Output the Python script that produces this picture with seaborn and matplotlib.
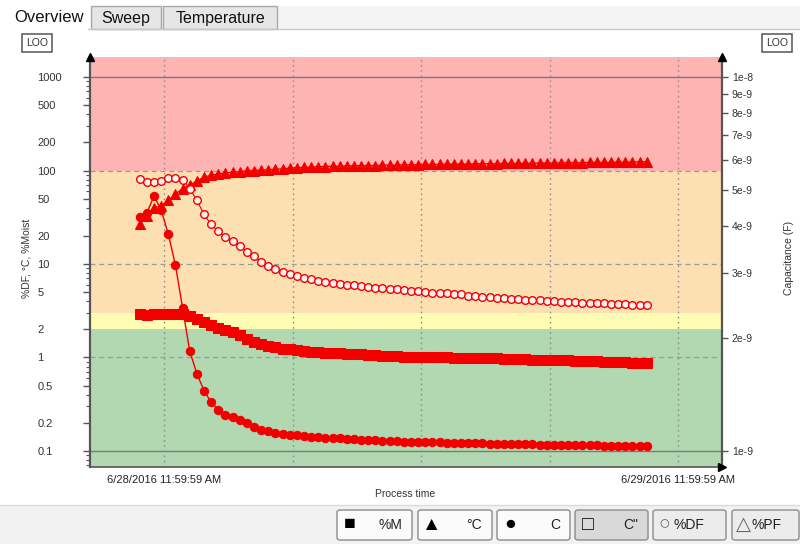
import numpy as np
import pandas as pd
import matplotlib
matplotlib.use("Agg")
import matplotlib.pyplot as plt
import matplotlib.ticker as mticker
import matplotlib.dates as mdates
from matplotlib.patches import Rectangle, FancyBboxPatch
from matplotlib.lines import Line2D
import seaborn as sns

# ---- sampled process data (20-minute readings) ----
sample_start = "2016-06-28 10:52"
sample_count = 72
sample_step = "20min"

moisture_pct = [
    2.9, 2.88, 2.9, 2.9, 2.9, 2.9, 2.92, 2.8,
    2.56, 2.38, 2.2, 2.07, 1.97, 1.87, 1.72, 1.58,
    1.45, 1.38, 1.32, 1.28, 1.24, 1.22, 1.19, 1.16,
    1.15, 1.14, 1.13, 1.12, 1.11, 1.10, 1.09, 1.08,
    1.07, 1.06, 1.05, 1.04, 1.03, 1.02, 1.02, 1.01,
    1.01, 1.0, 1.0, 1.0, 0.99, 0.99, 0.99, 0.98,
    0.98, 0.98, 0.98, 0.97, 0.97, 0.96, 0.96, 0.95,
    0.95, 0.94, 0.94, 0.93, 0.93, 0.92, 0.92, 0.91,
    0.91, 0.9, 0.9, 0.89, 0.89, 0.88, 0.88, 0.87,
]

temperature_c = [
    27, 33, 40, 42, 48, 56, 64, 70,
    77, 85, 89, 92, 94, 96, 97, 99,
    100, 101, 102, 103, 104, 106, 107, 108,
    109, 110, 110, 111, 111, 112, 112, 113,
    113, 113, 114, 114, 114, 115, 115, 115,
    116, 116, 116, 117, 117, 117, 117, 118,
    118, 118, 118, 119, 119, 119, 119, 120,
    120, 120, 120, 121, 121, 121, 121, 122,
    122, 122, 122, 123, 123, 123, 124, 124,
]

capacitance_nf = [
    4.22, 4.33, 4.81, 4.41, 3.80, 3.14, 2.41, 1.85,
    1.61, 1.45, 1.35, 1.29, 1.25, 1.23, 1.21, 1.19,
    1.16, 1.14, 1.13, 1.12, 1.11, 1.105, 1.10, 1.095,
    1.09, 1.088, 1.085, 1.082, 1.08, 1.077, 1.074, 1.072,
    1.07, 1.068, 1.066, 1.064, 1.062, 1.06, 1.059, 1.058,
    1.056, 1.055, 1.054, 1.053, 1.052, 1.051, 1.05, 1.049,
    1.048, 1.047, 1.046, 1.045, 1.044, 1.043, 1.042, 1.041,
    1.04, 1.039, 1.039, 1.038, 1.037, 1.037, 1.036, 1.035,
    1.035, 1.034, 1.033, 1.033, 1.032, 1.032, 1.031, 1.031,
]

dissipation_pct = [
    82, 76, 76, 78, 83, 84, 80, 64,
    48, 34, 26.5, 22.3, 19.4, 17.8, 15.6, 13.6,
    12.1, 10.6, 9.5, 8.8, 8.2, 7.9, 7.4, 7.0,
    6.85, 6.6, 6.4, 6.3, 6.15, 6.0, 5.9, 5.75,
    5.65, 5.55, 5.5, 5.45, 5.35, 5.25, 5.15, 5.1,
    5.0, 4.95, 4.9, 4.85, 4.8, 4.72, 4.6, 4.5,
    4.45, 4.4, 4.35, 4.3, 4.25, 4.2, 4.15, 4.1,
    4.07, 4.03, 4.0, 3.96, 3.93, 3.9, 3.87, 3.84,
    3.81, 3.78, 3.75, 3.72, 3.69, 3.66, 3.63, 3.6,
]

# ---- alarm zones on the left scale ----
zone_bounds = [0.01, 2, 3, 100, 1e5]
zone_colors = ["#b1d8b1", "#fefdb3", "#fde0b2", "#ffb4b4"]

# ---- axis ticks ----
left_ticks = [0.1, 0.2, 0.5, 1, 2, 5, 10, 20, 50, 100, 200, 500, 1000]
left_tick_labels = ["0.1", "0.2", "0.5", "1", "2", "5", "10", "20", "50",
                    "100", "200", "500", "1000"]
right_ticks = [9e-10, 1e-9, 2e-9, 3e-9, 4e-9, 5e-9, 6e-9, 7e-9, 8e-9, 9e-9, 1e-8]
right_tick_labels = ["9e-10", "1e-9", "2e-9", "3e-9", "4e-9", "5e-9", "6e-9",
                     "7e-9", "8e-9", "9e-9", "1e-8"]
solid_levels = [0.1, 1000]
dashed_levels = [1, 10, 100]
time_ticks = ["2016-06-28 11:59:59", "2016-06-28 17:59:59", "2016-06-28 23:59:59",
              "2016-06-29 05:59:59", "2016-06-29 11:59:59"]
time_tick_labels = ["6/28/2016 11:59:59 AM", "", "", "", "6/29/2016 11:59:59 AM"]
time_range = ["2016-06-28 08:32:40", "2016-06-29 14:03:00"]

button_symbols = ["\u25a0", "\u25b2", "\u25cf", "\u25a1", "\u25cb", "\u25b3"]
button_labels = ["%M", "\u00b0C", "C", "C\"", "%DF", "%PF"]

sns.set_theme(style="white")
plt.rcParams["font.family"] = ["Liberation Sans", "DejaVu Sans"]

times = pd.date_range(sample_start, periods=sample_count, freq=sample_step)
df = pd.DataFrame({
    "time": times,
    "moisture": moisture_pct,
    "temperature": temperature_c,
    "capacitance": np.array(capacitance_nf) * 1e-9,
    "dissipation": dissipation_pct,
})

W, H = 800, 544
fig = plt.figure(figsize=(W / 100, H / 100), dpi=100)
fig.patch.set_facecolor("white")


def fx(x):
    return x / W


def fy(y):
    return 1 - y / H


# plot area in pixel edges: left 90, right 722, top 57, bottom 467
ax = fig.add_axes([fx(90), fy(467), (722 - 90) / W, (467 - 57) / H])
ax.set_facecolor("white")
ax.set_yscale("log")
ax.set_ylim(0.0674, 1637)
xlo = mdates.date2num(pd.Timestamp(time_range[0]))
xhi = mdates.date2num(pd.Timestamp(time_range[1]))
ax.set_xlim(xlo, xhi)

for lo, hi, c in zip(zone_bounds[:-1], zone_bounds[1:], zone_colors):
    ax.axhspan(lo, hi, color=c, lw=0, zorder=0)

for lv in solid_levels:
    ax.axhline(lv, color="#7a7a7a", lw=1.0, zorder=1)
for lv in dashed_levels:
    ax.axhline(lv, color="#9a9a9a", lw=0.9, ls=(0, (4, 3)), zorder=1)
tick_nums = [mdates.date2num(pd.Timestamp(t)) for t in time_ticks]
for tn in tick_nums:
    ax.axvline(tn, color="#8f8f8f", lw=1.0, ls=(0, (1.2, 2.5)), zorder=1)

red = "#f20000"
sns.lineplot(data=df, x="time", y="temperature", ax=ax, estimator=None,
             color=red, lw=1.0, marker="^", markersize=6.5,
             markeredgecolor=red, markerfacecolor=red, legend=False, zorder=4)
sns.lineplot(data=df, x="time", y="dissipation", ax=ax, estimator=None,
             color=red, lw=0.8, marker="o", markersize=5.5,
             markeredgecolor=red, markerfacecolor="#fff1ee",
             markeredgewidth=1.0, legend=False, zorder=4)
sns.lineplot(data=df, x="time", y="moisture", ax=ax, estimator=None,
             color=red, lw=1.5, marker="s", markersize=6.5,
             markeredgecolor=red, markerfacecolor=red, legend=False, zorder=4)

ax.set_xlim(xlo, xhi)
ax.set_ylim(0.0674, 1637)
ax.set_xlabel("")
ax.set_ylabel("")
ax.grid(False)

ax.yaxis.set_major_locator(mticker.FixedLocator(left_ticks))
ax.yaxis.set_major_formatter(mticker.FixedFormatter(left_tick_labels))
ax.yaxis.set_minor_locator(mticker.LogLocator(base=10, subs=(3, 4, 6, 7, 8, 9), numticks=50))
ax.yaxis.set_minor_formatter(mticker.NullFormatter())
ax.tick_params(axis="y", which="major", direction="out", left=True, length=5,
               width=1, color="#555555", labelsize=8, labelcolor="#333333", pad=33)
ax.tick_params(axis="y", which="minor", direction="out", left=True, length=3,
               width=0.8, color="#555555")
plt.setp(ax.get_yticklabels(), ha="left")

ax.set_xticks(tick_nums)
ax.set_xticklabels(time_tick_labels)
ax.tick_params(axis="x", length=0, labelsize=8, labelcolor="#222222", pad=6)

for side in ["top", "right"]:
    ax.spines[side].set_visible(False)
ax.spines["left"].set_color("#555555")
ax.spines["left"].set_linewidth(1.6)
ax.spines["bottom"].set_color("#555555")
ax.spines["bottom"].set_linewidth(1.2)

# capacitance on its own log scale at the right
ax2 = ax.twinx()
ax2.set_yscale("log")
sns.lineplot(data=df, x="time", y="capacitance", ax=ax2, estimator=None,
             color=red, lw=1.0, marker="o", markersize=6,
             markeredgecolor=red, markerfacecolor=red, legend=False, zorder=4)
ax2.set_ylim(0.906e-9, 1.131e-8)
ax2.set_xlim(xlo, xhi)
ax2.set_ylabel("")
ax2.set_xlabel("")
ax2.grid(False)
ax2.yaxis.set_major_locator(mticker.FixedLocator(right_ticks))
ax2.yaxis.set_major_formatter(mticker.FixedFormatter(right_tick_labels))
ax2.yaxis.set_minor_locator(mticker.NullLocator())
ax2.tick_params(axis="y", which="major", direction="out", right=True, length=4,
                width=1, color="#555555", labelsize=7.5, labelcolor="#333333", pad=3)
for side in ["top", "left", "bottom"]:
    ax2.spines[side].set_visible(False)
ax2.spines["right"].set_color("#555555")
ax2.spines["right"].set_linewidth(1.6)

# axis arrow heads
for (px, py, m) in [(0, 1, "^"), (1, 1, "^"), (1, 0, ">")]:
    ax2.plot([px], [py], marker=m, color="black", markersize=6,
             transform=ax2.transAxes, clip_on=False, zorder=10)

# axis titles
fig.text(fx(27), fy(258), "%DF, \u00b0C, %Moist", rotation=90, ha="center",
         va="center", fontsize=7.5, color="#333333")
fig.text(fx(789), fy(258), "Capacitance (F)", rotation=90, ha="center",
         va="center", fontsize=7.5, color="#333333")
fig.text(fx(405), fy(494), "Process time", ha="center", va="center",
         fontsize=7.5, color="#333333")

# LOO boxes
for xc in (37, 777):
    fig.text(fx(xc), fy(43), "LOO", ha="center", va="center", fontsize=7.5,
             color="#333333",
             bbox=dict(boxstyle="square,pad=0.35", fc="white", ec="#555555", lw=1.1))

# tab strip
fig.add_artist(Line2D([fx(88), fx(800)], [fy(29), fy(29)], transform=fig.transFigure,
                      color="#c8c8c8", lw=1))
fig.add_artist(Rectangle((fx(277), fy(29)), (800 - 277) / W, (29 - 6) / H,
                         transform=fig.transFigure, fc="#f4f4f4", ec="none"))
for (x0, x1, name) in [(91, 161, "Sweep"), (163, 277, "Temperature")]:
    fig.add_artist(Rectangle((fx(x0), fy(29)), (x1 - x0) / W, (29 - 6) / H,
                             transform=fig.transFigure, fc="#e6e6e6",
                             ec="#a8a8a8", lw=1))
    fig.text(fx((x0 + x1) / 2), fy(18), name, ha="center", va="center",
             fontsize=11.5, color="#111111")
fig.text(fx(49), fy(17), "Overview", ha="center", va="center", fontsize=12,
         color="#111111")

# toggle buttons along the bottom
fig.add_artist(Rectangle((0, 0), 1, fy(505), transform=fig.transFigure,
                         fc="#f2f2f2", ec="none", zorder=0))
fig.add_artist(Line2D([0, 1], [fy(505), fy(505)], transform=fig.transFigure,
                      color="#dcdcdc", lw=1))
button_boxes = [(337, 412), (418, 492), (497, 570), (575, 648), (653, 726), (732, 799)]
button_fills = ["#fbfbfb", "#fbfbfb", "#fbfbfb", "#d9d9d9", "#ececec", "#ececec"]
for i, ((x0, x1), sym, lab, fc) in enumerate(zip(button_boxes, button_symbols,
                                                  button_labels, button_fills)):
    fig.add_artist(FancyBboxPatch((fx(x0), fy(540)), (x1 - x0) / W, 30 / H,
                                  boxstyle="round,pad=0,rounding_size=0.004",
                                  transform=fig.transFigure, fc=fc, ec="#8c8c8c",
                                  lw=1.0))
    if i < 4:
        fig.text(fx(x0 + 13), fy(525), sym, ha="center", va="center",
                 fontsize=14, color="black")
        fig.text(fx(x1 - 10), fy(525), lab, ha="right", va="center",
                 fontsize=10, color="#222222")
    else:
        fig.text(fx(x0 + 11), fy(525), sym, ha="center", va="center",
                 fontsize=14, color="#666666")
        fig.text(fx(x0 + 20), fy(525), lab, ha="left", va="center",
                 fontsize=10, color="#222222")

fig.savefig("out.png", dpi=100)
